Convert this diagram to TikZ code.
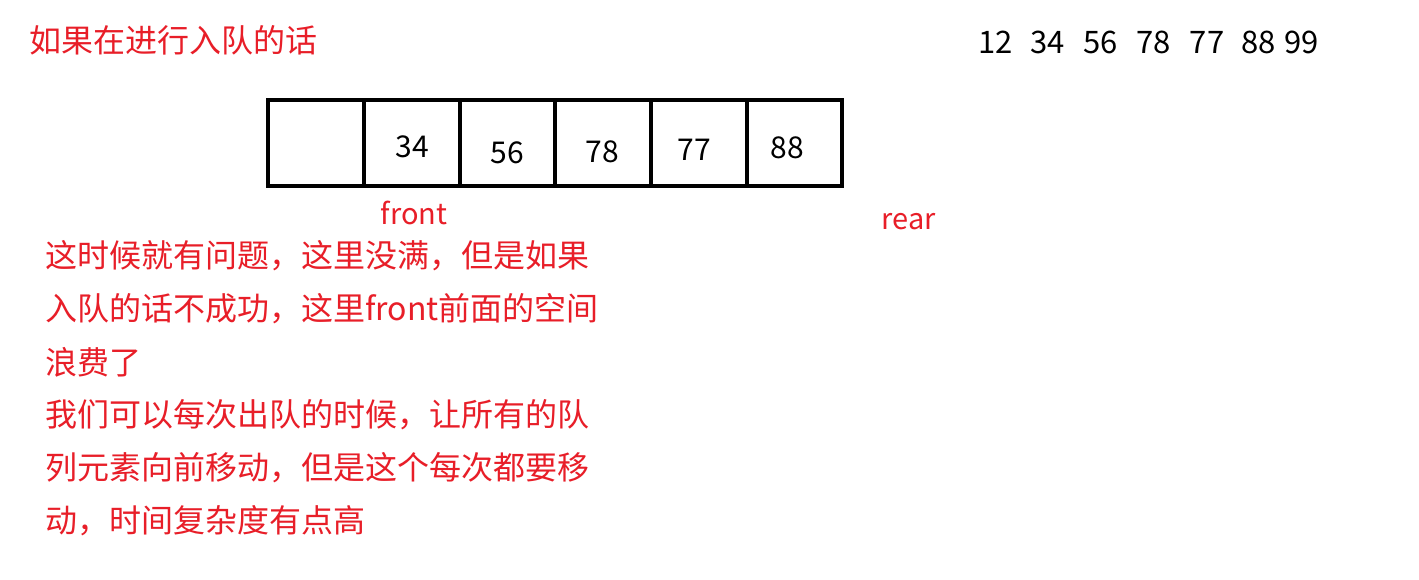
\documentclass[tikz,border=0pt]{standalone}
\usepackage{fontspec}
\setmainfont{Noto Sans CJK SC}
\definecolor{notered}{RGB}{232,30,40}
\begin{document}
\begin{tikzpicture}[x=1pt,y=-1pt,
  num/.style={font=\fontsize{30}{36}\selectfont,text=black,inner sep=0pt},
  redtxt/.style={font=\fontsize{32}{38}\selectfont,text=notered,inner sep=0pt,anchor=west},
  lbl/.style={font=\fontsize{29}{35}\selectfont,text=notered,inner sep=0pt}]
\useasboundingbox[fill=white] (0,0) rectangle (1419,579);
\node[redtxt] (title) at (29,40) {如果在进行入队的话};
\node[num,anchor=west,font=\fontsize{31}{36}\selectfont] (seq) at (978,42) {12\hspace{18pt}34\hspace{18pt}56\hspace{19pt}78\hspace{19pt}77\hspace{17pt}88\hspace{9pt}99};
\draw[line width=4pt] (268,100) rectangle (842,186);
\coordinate (d1t) at (364,100); \coordinate (d1b) at (364,186);
\coordinate (d2t) at (460,100); \coordinate (d2b) at (460,186);
\coordinate (d3t) at (555,100); \coordinate (d3b) at (555,186);
\coordinate (d4t) at (651,100); \coordinate (d4b) at (651,186);
\coordinate (d5t) at (747,100); \coordinate (d5b) at (747,186);
\draw[line width=4pt] (d1t) -- (d1b) (d2t) -- (d2b) (d3t) -- (d3b) (d4t) -- (d4b) (d5t) -- (d5b);
\node[num] (n34) at (412,147) {34};
\node[num] (n56) at (507,153) {56};
\node[num] (n78) at (602,152) {78};
\node[num] (n77) at (694,150) {77};
\node[num] (n88) at (787,148) {88};
\node[lbl] (front) at (414,213) {front};
\node[lbl] (rear) at (909,222) {rear};
\node[redtxt] (l1) at (45,256) {这时候就有问题，这里没满，但是如果};
\node[redtxt] (l2) at (45,309) {入队的话不成功，这里front前面的空间};
\node[redtxt] (l3) at (45,362) {浪费了};
\node[redtxt] (l4) at (45,415) {我们可以每次出队的时候，让所有的队};
\node[redtxt] (l5) at (45,468) {列元素向前移动，但是这个每次都要移};
\node[redtxt] (l6) at (45,521) {动，时间复杂度有点高};
\end{tikzpicture}
\end{document}
